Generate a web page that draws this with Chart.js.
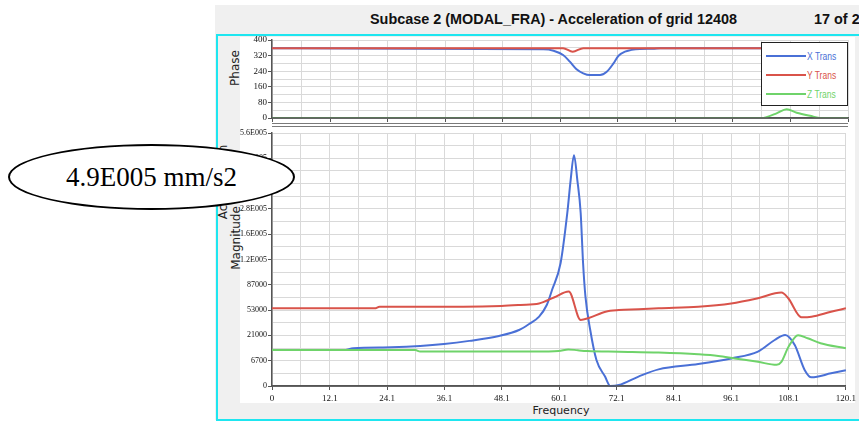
<!DOCTYPE html>
<html><head><meta charset="utf-8">
<script src="https://cdn.jsdelivr.net/npm/chart.js@4.4.0/dist/chart.umd.min.js"></script>
<style>
html,body{margin:0;padding:0;background:#fff;}
#stage{position:relative;width:859px;height:423px;overflow:hidden;background:#fff;}
.abs{position:absolute;}
#grey{left:215px;top:5px;width:644px;height:415px;background:#f0f0f0;}
#frame{left:216px;top:34px;width:700px;height:387px;border:2px solid #1ee6f0;box-sizing:border-box;}
#panel{left:240px;top:37px;width:615px;height:366px;background:#fff;}
#title{left:370px;top:11px;font:bold 14px "Liberation Sans",Arial,sans-serif;color:#111;white-space:nowrap;transform-origin:0 50%;}
#page{left:814px;top:11px;font:bold 14px "Liberation Sans",Arial,sans-serif;color:#111;white-space:nowrap;transform-origin:0 50%;}
.rot{position:absolute;transform:translate(-50%,-50%) rotate(-90deg);font:12px "DejaVu Sans",sans-serif;color:#222;white-space:nowrap;}
#freq{left:561px;top:410px;transform:translate(-50%,-50%);font:11px "DejaVu Sans",sans-serif;color:#222;white-space:nowrap;}
.sep{position:absolute;left:272px;width:576px;height:1px;background:#7a7a7a;}
#legend{left:761px;top:42px;width:87px;height:64px;border:1px solid #222;box-sizing:border-box;background:#fff;}
.lrow{position:absolute;left:4px;height:2px;width:40px;}
.ltxt{position:absolute;left:45px;font:10px "Liberation Sans",Arial,sans-serif;white-space:nowrap;transform:translateY(-50%) scaleX(0.85);transform-origin:0 50%;}
#ellipse{left:8px;top:144px;width:287px;height:66px;border:2px solid #000;border-radius:50%;background:#fff;box-sizing:border-box;
  display:flex;align-items:center;justify-content:center;font:27px "Liberation Serif","Times New Roman",serif;color:#000;}
canvas{position:absolute;}
</style></head>
<body><div id="stage">
<div id="grey" class="abs"></div>
<div id="frame" class="abs"></div>
<div id="panel" class="abs"></div>
<div id="title" class="abs">Subcase 2 (MODAL_FRA) - Acceleration of grid 12408</div>
<div id="page" class="abs">17 of 20</div>
<div class="rot" style="left:235px;top:68px;">Phase</div>
<div class="rot" style="left:236px;top:238px;">Magnitude</div>
<div class="rot" style="left:223px;top:182px;">Acceleration</div>
<div id="freq" class="abs">Frequency</div>
<canvas id="phase" width="644" height="100" style="left:215px;top:30px;"></canvas>
<canvas id="mag" width="644" height="300" style="left:215px;top:120px;"></canvas>
<div class="sep" style="top:123px;"></div>
<div class="sep" style="top:126px;"></div>
<div id="legend" class="abs">
  <div class="lrow" style="top:12px;background:#4a70d6;"></div><div class="ltxt" style="top:13px;color:#4a70d6;">X Trans</div>
  <div class="lrow" style="top:31px;background:#d9534a;"></div><div class="ltxt" style="top:32px;color:#d9534a;">Y Trans</div>
  <div class="lrow" style="top:50px;background:#6fd36a;"></div><div class="ltxt" style="top:51px;color:#6fd36a;">Z Trans</div>
</div>
<div id="ellipse" class="abs">4.9E005 mm/s2</div>
</div>
<script>
// ---------- data ----------
const SERIES_NAMES = ['X Trans', 'Y Trans', 'Z Trans'];
const SERIES_COLORS = ['#4a70d6', '#d9534a', '#6fd36a'];

const X_TICKS = [0, 12.1, 24.1, 36.1, 48.1, 60.1, 72.1, 84.1, 96.1, 108.1, 120.1];
const X_TICK_LABELS = ['0', '12.1', '24.1', '36.1', '48.1', '60.1', '72.1', '84.1', '96.1', '108.1', '120.1'];

const PHASE_TICKS = [0, 80, 160, 240, 320, 400];
const PHASE_TICK_LABELS = ['0', '80', '160', '240', '320', '400'];

const MAG_TICKS = [0, 6700, 21000, 53000, 87000, 120000, 160000, 280000, 380000, 480000, 560000];
const MAG_TICK_LABELS = ['0', '6700', '21000', '53000', '87000', '1.2E005', '1.6E005', '2.8E005', '3.8E005', '4.8E005', '5.6E005'];

// Phase (deg)
const PH_X_FREQ = [0, 56.6, 58.7, 60.7, 62.1, 63.5, 64.9, 66.3, 68.4, 69.8, 71.2, 72.2, 73.6, 76.7, 79.4, 81, 120.1];
const PH_X_VALS = [358, 352, 345, 323, 289, 250, 229, 220, 220, 237, 280, 318, 340, 354, 355, 358, 358];
const PH_Y_FREQ = [0, 60.7, 62.7, 64.9, 120.1];
const PH_Y_VALS = [358, 358, 340, 358, 358];
const PH_Z_FREQ = [0, 102.5, 103.1, 105.2, 107.3, 109.4, 112.9, 114.2, 120.1];
const PH_Z_VALS = [0, 0, 4, 24, 45, 27, 7, 0, 0];

// Magnitude (mm/s2)
const MAG_X_FREQ = [0, 15, 17, 25, 31, 36, 41.3, 47.5, 51.7, 53.8, 55.9, 57.5, 58.6, 60.4, 61.8, 62.5, 63.2, 63.9, 64.6, 65.1, 65.6, 66.6, 67.9, 69.7, 70.8, 72.6, 76.7, 80.9, 89.2, 96.1, 101.7, 105.2, 107.4, 109.4, 111.5, 112.9, 117, 120.1];
const MAG_X_VALS = [12700, 12700, 13700, 14300, 15000, 16100, 17900, 20700, 27800, 35400, 44700, 59800, 80000, 115400, 260800, 394000, 490000, 394000, 260800, 115400, 71000, 27800, 7100, 2500, 0, 270, 2500, 4400, 5800, 8000, 11800, 18400, 21600, 15600, 4200, 2300, 3350, 4200];
const MAG_Y_FREQ = [0, 21.5, 22.5, 40, 48, 52, 55.9, 59, 62.1, 64.6, 66.3, 69.8, 72.6, 76.7, 80.9, 89.2, 96.1, 101.7, 106.6, 108, 110.8, 112.9, 117, 120.1];
const MAG_Y_VALS = [55400, 55400, 57500, 57500, 58500, 60000, 62000, 70000, 78000, 40500, 43000, 51000, 53000, 54000, 55400, 57500, 62000, 69000, 76500, 69300, 44000, 44700, 51000, 55400];
const MAG_Z_FREQ = [0, 30, 31, 55, 60, 62, 64, 66, 72.6, 80.9, 89.2, 93.4, 96.8, 101.7, 105.6, 106.6, 108.1, 110.1, 112.1, 114.8, 120.1];
const MAG_Z_VALS = [12700, 12700, 11900, 11900, 12200, 13100, 12600, 12200, 11800, 11300, 10300, 9400, 8000, 6400, 5600, 6400, 14600, 21300, 19400, 16600, 13700];

// ---------- title fitting ----------
(function () {
  const t = document.getElementById('title');
  const w = t.getBoundingClientRect().width;
  const s = 367 / w;
  t.style.transform = 'scaleX(' + s + ')';
  document.getElementById('page').style.transform = 'scaleX(' + s + ')';
})();

// ---------- helpers ----------
function valueToQ(v) {
  const T = MAG_TICKS;
  if (v <= T[0]) return 0;
  for (let i = 0; i < T.length - 1; i++) {
    if (v <= T[i + 1]) return i + (v - T[i]) / (T[i + 1] - T[i]);
  }
  return T.length - 1;
}
function qToValue(q) {
  const T = MAG_TICKS;
  if (q <= 0) return T[0];
  if (q >= T.length - 1) return T[T.length - 1];
  const i = Math.floor(q);
  return T[i] + (q - i) * (T[i + 1] - T[i]);
}

class SegmentScale extends Chart.LinearScale {
  determineDataLimits() { this.min = MAG_TICKS[0]; this.max = MAG_TICKS[MAG_TICKS.length - 1]; }
  buildTicks() {
    const t = [];
    for (let i = 0; i < MAG_TICKS.length; i++) {
      t.push({ value: MAG_TICKS[i] });
      if (i < MAG_TICKS.length - 1) t.push({ value: qToValue(i + 0.5) });
    }
    return t;
  }
  getPixelForValue(v) { return this.getPixelForDecimal(valueToQ(v) / (MAG_TICKS.length - 1)); }
  getValueForPixel(p) { return qToValue(this.getDecimalForPixel(p) * (MAG_TICKS.length - 1)); }
}
SegmentScale.id = 'segment';
SegmentScale.defaults = Chart.LinearScale.defaults;
Chart.register(SegmentScale);

function pts(fs, vs) { return fs.map((f, i) => ({ x: f, y: vs[i] })); }
function withMinor(major) {
  const out = [];
  for (let i = 0; i < major.length; i++) {
    out.push(major[i]);
    if (i < major.length - 1) out.push((major[i] + major[i + 1]) / 2);
  }
  return out;
}
function isMajor(list, v) { return list.some(m => Math.abs(m - v) < 1e-6); }

const GRID = '#d9d9d9';
const AXIS = '#555555';
const YW = 45;

const axisOnTop = {
  id: 'axisOnTop',
  afterDatasetsDraw(chart) {
    const { ctx, chartArea } = chart;
    ctx.save();
    ctx.strokeStyle = AXIS;
    ctx.lineWidth = 1.5;
    ctx.beginPath();
    ctx.moveTo(chartArea.left, chartArea.bottom);
    ctx.lineTo(chartArea.right, chartArea.bottom);
    ctx.stroke();
    ctx.restore();
  }
};

function makeDatasets(sets) {
  return sets.map((d, i) => ({
    label: SERIES_NAMES[i],
    data: d,
    borderColor: SERIES_COLORS[i],
    backgroundColor: SERIES_COLORS[i],
    borderWidth: 2,
    pointRadius: 0,
    cubicInterpolationMode: 'monotone',
    fill: false,
    order: 3 - i
  }));
}

function xScale(showLabels, height) {
  return {
    type: 'linear', min: 0, max: 120.1,
    afterBuildTicks: s => { s.ticks = withMinor(X_TICKS).map(v => ({ value: v })); },
    afterFit: s => { s.height = height; },
    grid: {
      color: GRID, lineWidth: 1, tickLength: 4,
      tickColor: c => (c.tick && isMajor(X_TICKS, c.tick.value)) ? AXIS : 'rgba(0,0,0,0)'
    },
    border: { color: AXIS, width: 1.5 },
    ticks: {
      display: showLabels, autoSkip: false, maxRotation: 0, padding: 3,
      color: '#111', font: { family: 'Liberation Serif', size: 9 },
      callback: v => { const k = X_TICKS.findIndex(m => Math.abs(m - v) < 1e-6); return k >= 0 ? X_TICK_LABELS[k] : ''; }
    }
  };
}

const common = {
  responsive: false, animation: false, devicePixelRatio: 1,
  plugins: { legend: { display: false }, tooltip: { enabled: false } },
  events: []
};

new Chart(document.getElementById('phase'), {
  type: 'line',
  data: { datasets: makeDatasets([pts(PH_X_FREQ, PH_X_VALS), pts(PH_Y_FREQ, PH_Y_VALS), pts(PH_Z_FREQ, PH_Z_VALS)]) },
  options: Object.assign({}, common, {
    layout: { padding: { left: 272 - 215 - YW, top: 10, right: 11, bottom: 4 } },
    scales: {
      x: xScale(false, 8),
      y: {
        type: 'linear', min: 0, max: 400,
        afterBuildTicks: s => { s.ticks = withMinor(PHASE_TICKS).map(v => ({ value: v })); },
        afterFit: s => { s.width = YW; },
        grid: {
          color: GRID, lineWidth: 1, tickLength: 4,
          tickColor: c => (c.tick && isMajor(PHASE_TICKS, c.tick.value)) ? AXIS : 'rgba(0,0,0,0)'
        },
        border: { color: AXIS, width: 1.5 },
        ticks: {
          autoSkip: false, padding: 1, color: '#111', font: { family: 'Liberation Serif', size: 9 },
          callback: v => { const k = PHASE_TICKS.indexOf(v); return k >= 0 ? PHASE_TICK_LABELS[k] : ''; }
        }
      }
    }
  }),
  plugins: [axisOnTop]
});

new Chart(document.getElementById('mag'), {
  type: 'line',
  data: { datasets: makeDatasets([pts(MAG_X_FREQ, MAG_X_VALS), pts(MAG_Y_FREQ, MAG_Y_VALS), pts(MAG_Z_FREQ, MAG_Z_VALS)]) },
  options: Object.assign({}, common, {
    layout: { padding: { left: 272 - 215 - YW, top: 13, right: 11, bottom: 14 } },
    scales: {
      x: xScale(true, 20),
      y: {
        type: 'segment',
        afterFit: s => { s.width = YW; },
        grid: {
          color: GRID, lineWidth: 1, tickLength: 4,
          tickColor: c => (c.tick && MAG_TICKS.indexOf(c.tick.value) >= 0) ? AXIS : 'rgba(0,0,0,0)'
        },
        border: { color: AXIS, width: 1.5 },
        ticks: {
          autoSkip: false, padding: 1, color: '#111', font: { family: 'Liberation Serif', size: 8 },
          callback: v => { const k = MAG_TICKS.indexOf(v); return k >= 0 ? MAG_TICK_LABELS[k] : ''; }
        }
      }
    }
  }),
  plugins: [axisOnTop]
});
</script>
</body></html>
